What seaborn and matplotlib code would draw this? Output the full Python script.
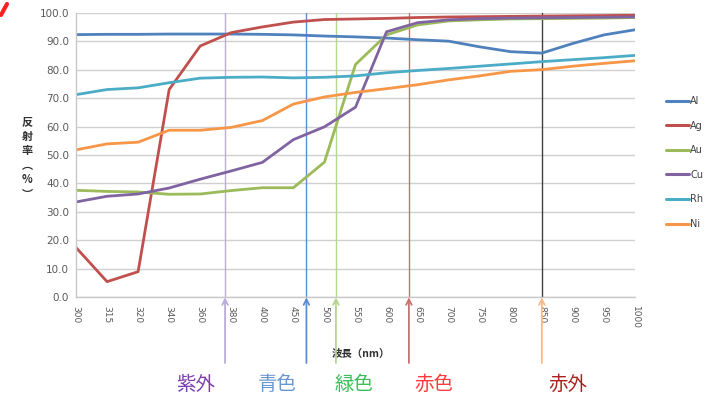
import numpy as np
import pandas as pd
import matplotlib
matplotlib.use("Agg")
import matplotlib.pyplot as plt
import seaborn as sns
from matplotlib.lines import Line2D

sns.set_theme(style="white")
plt.rcParams['font.family'] = ['Noto Sans CJK JP', 'DejaVu Sans']

# ---------------- data ----------------
wavelengths = ["300", "315", "320", "340", "360", "380", "400", "450", "500", "550",
               "600", "650", "700", "750", "800", "850", "900", "950", "1000"]
Al = [92.3, 92.4, 92.4, 92.5, 92.5, 92.5, 92.4, 92.2, 91.8, 91.5, 91.1, 90.5, 90.0, 88.0, 86.3, 85.8, 89.2, 92.2, 94.0]
Ag = [17.5, 5.5, 9.0, 73.0, 88.3, 93.0, 95.0, 96.7, 97.6, 97.8, 98.0, 98.3, 98.5, 98.6, 98.7, 98.8, 98.9, 99.0, 99.1]
Au = [37.6, 37.2, 37.0, 36.2, 36.3, 37.5, 38.5, 38.5, 47.5, 81.8, 92.2, 95.7, 97.1, 97.5, 97.8, 97.9, 98.0, 98.1, 98.3]
Cu = [33.5, 35.5, 36.3, 38.4, 41.5, 44.4, 47.4, 55.4, 59.9, 66.8, 93.3, 96.5, 97.5, 97.9, 98.1, 98.2, 98.3, 98.4, 98.5]
Rh = [71.2, 73.0, 73.6, 75.4, 77.0, 77.3, 77.4, 77.1, 77.3, 77.8, 78.9, 79.7, 80.4, 81.2, 82.0, 82.8, 83.5, 84.2, 85.0]
Ni = [51.8, 53.9, 54.5, 58.7, 58.7, 59.7, 62.1, 67.9, 70.4, 72.0, 73.3, 74.7, 76.4, 77.8, 79.4, 80.0, 81.2, 82.2, 83.1]

series_names = ["Al", "Ag", "Au", "Cu", "Rh", "Ni"]
series_values = [Al, Ag, Au, Cu, Rh, Ni]
series_colors = ["#4F81BD", "#C0504D", "#9BBB59", "#8064A2", "#4BACC6", "#F79646"]

# spectral band markers (category-axis positions) and labels
band_pos = [4.8, 7.42, 8.37, 10.72, 15.0]
band_line_colors = ["#b9acd8", "#5b8fd4", "#b5d68e", "#c87272", "#404040"]
band_arrow_colors = ["#b9acd8", "#5b8fd4", "#b5d68e", "#c87272", "#f8b98a"]
band_labels = ["紫外", "青色", "緑色", "赤色", "赤外"]
band_label_pos = [3.86, 6.47, 8.95, 11.53, 15.84]
band_label_colors = ["#7a3fb0", "#6a96d0", "#3cbf5a", "#ff3b3b", "#a8231f"]

# ---------------- build table ----------------
pos = np.arange(len(wavelengths))
df = pd.concat([pd.DataFrame({"pos": pos, "value": v, "metal": n})
                for n, v in zip(series_names, series_values)], ignore_index=True)

fig = plt.figure(figsize=(7.10, 3.97), dpi=100)
ax = fig.add_axes([76 / 710, 1 - 297.3 / 397, (635 - 76) / 710, (297.3 - 12.7) / 397])

sns.lineplot(data=df, x="pos", y="value", hue="metal", hue_order=series_names,
             palette=series_colors, linewidth=2.0, ax=ax, legend=False)

ax.set_xlim(0, len(wavelengths) - 1)
ax.set_ylim(0, 100)
ax.set_yticks(np.arange(0, 101, 10))
ax.set_yticklabels([f"{t:.1f}" for t in np.arange(0, 101, 10)], fontsize=7.5, color="#595959",
                   family="DejaVu Sans")
ax.set_xticks(pos)
ax.set_xticklabels(wavelengths, rotation=-90, fontsize=6.5, color="#595959", family="DejaVu Sans")
ax.tick_params(axis="both", direction="out", length=3, width=0.8, color="#bfbfbf", pad=2)
ax.tick_params(axis="x", pad=3)
ax.yaxis.grid(True, color="#d0d0d0", linewidth=1.0)
ax.set_axisbelow(True)
for s in ["top", "right"]:
    ax.spines[s].set_visible(False)
for s in ["left", "bottom"]:
    ax.spines[s].set_color("#c8c8c8")
    ax.spines[s].set_linewidth(1.0)

ax.set_xlabel("波長（nm）", fontsize=7.5, fontweight="bold", color="#303030")
ax.xaxis.set_label_coords((361 - 76) / (635 - 76), -(349 - 297.3) / (297.3 - 12.7))
ax.set_ylabel("反\n射\n率\n︵\n%\n︶", fontsize=8, fontweight="bold", color="#303030",
              rotation=0, linespacing=1.15, va="center", ha="center")
ax.yaxis.set_label_coords(-(76 - 27) / (635 - 76), (297.3 - 158) / (297.3 - 12.7))

# band lines and arrows
y_bottom = -(363 - 297.3) / 2.846
for xp, lc, ac in zip(band_pos, band_line_colors, band_arrow_colors):
    ax.plot([xp, xp], [0, 100], color=lc, linewidth=1.0, zorder=1.5, clip_on=False)
    ax.annotate("", xy=(xp, 0), xytext=(xp, y_bottom), annotation_clip=False,
                arrowprops=dict(arrowstyle="->", color=ac, lw=1.3, shrinkA=0, shrinkB=0,
                                mutation_scale=10))

for txt, xp, c in zip(band_labels, band_label_pos, band_label_colors):
    ax.text(xp, -(384 - 297.3) / 2.846, txt, color=c, fontsize=14, ha="center", va="center",
            clip_on=False)

# legend
handles = [Line2D([0], [0], color=c, linewidth=2.2) for c in series_colors]
leg = fig.legend(handles, series_names, loc="upper left", bbox_to_anchor=(666 / 710, 1 - 96 / 397),
                 frameon=False, fontsize=7, handlelength=2.4, handletextpad=0.1,
                 labelspacing=1.5, borderpad=0, borderaxespad=0)
for t in leg.get_texts():
    t.set_color("#404040")
    t.set_family("DejaVu Sans")

# small red corner mark
fig.add_artist(Line2D([1 / 710, 7 / 710], [1 - 15 / 397, 1 - 4 / 397], color="#ff2020",
                      linewidth=3, transform=fig.transFigure))

fig.savefig("out.png", dpi=100)
